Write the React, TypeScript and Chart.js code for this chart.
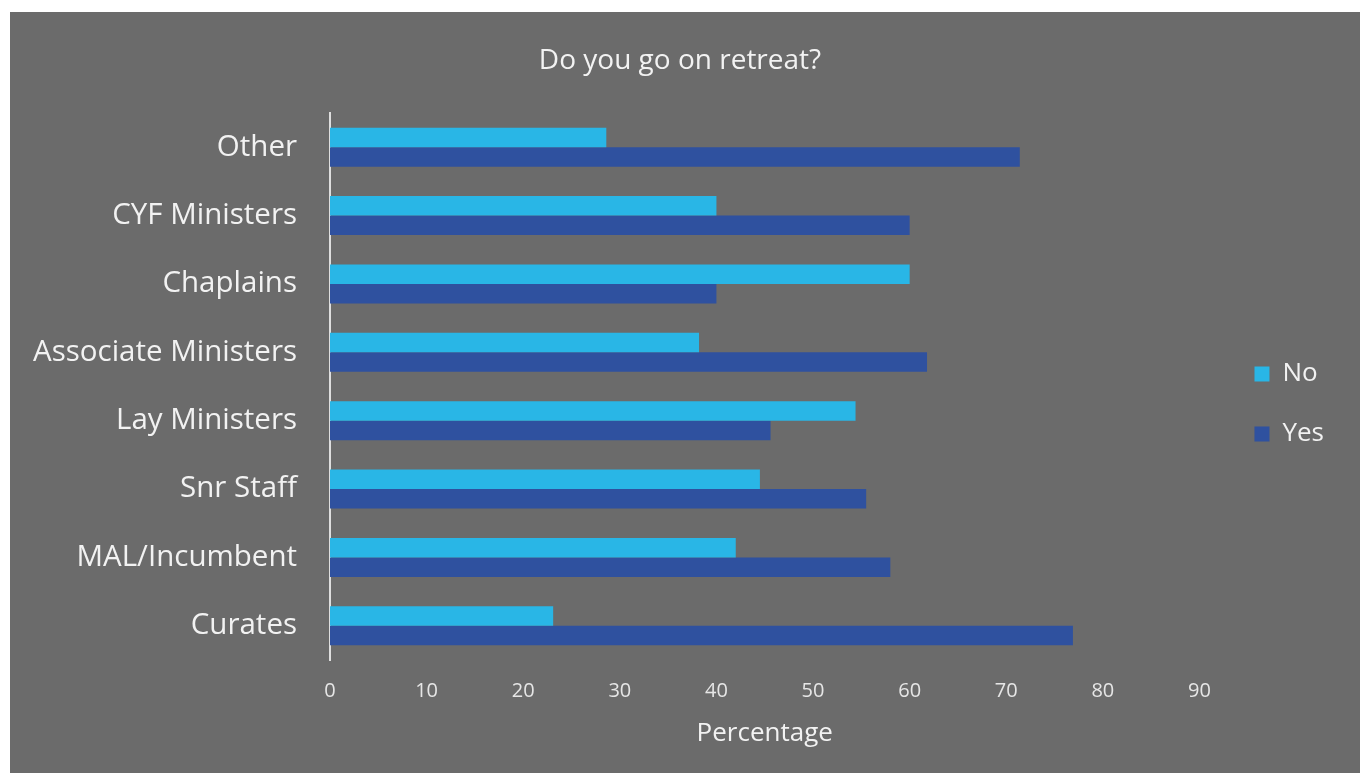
import React, { useEffect, useRef } from "react";
import { Chart, registerables } from "chart.js";

Chart.register(...registerables);

const categories = [
  "Other",
  "CYF Ministers",
  "Chaplains",
  "Associate Ministers",
  "Lay Ministers",
  "Snr Staff",
  "MAL/Incumbent",
  "Curates",
];
const noValues = [28.6, 40, 60, 38.2, 54.4, 44.5, 42, 23.1];
const yesValues = [71.4, 60, 40, 61.8, 45.6, 55.5, 58, 76.9];
const seriesNames = ["No", "Yes"];
const xTicksMax = 90;

const FONT = "'Open Sans', 'Noto Sans', sans-serif";
const TEXT = "#f2f2f2";

export default function App() {
  const ref = useRef<HTMLCanvasElement | null>(null);

  useEffect(() => {
    if (!ref.current) return;
    const chart = new Chart(ref.current, {
      type: "bar",
      data: {
        labels: categories,
        datasets: [
          {
            label: seriesNames[0],
            data: noValues,
            backgroundColor: "#29b6e6",
            borderWidth: 0,
            barPercentage: 1,
            categoryPercentage: 0.57,
          },
          {
            label: seriesNames[1],
            data: yesValues,
            backgroundColor: "#2f519f",
            borderWidth: 0,
            barPercentage: 1,
            categoryPercentage: 0.57,
          },
        ],
      },
      options: {
        indexAxis: "y",
        responsive: false,
        animation: false,
        layout: { padding: { left: 16, right: 26, top: 0, bottom: 0 } },
        scales: {
          x: {
            type: "linear",
            min: 0,
            max: xTicksMax,
            grid: { display: false, drawTicks: false },
            border: { display: false },
            ticks: {
              stepSize: 10,
              color: "#e6e6e6",
              padding: 19,
              font: { family: FONT, size: 20 },
            },
            title: {
              display: true,
              text: "Percentage",
              color: TEXT,
              font: { family: FONT, size: 26 },
              padding: { top: 0, bottom: 24 },
            },
            afterFit: (s: any) => {
              s.height = 113;
            },
          },
          y: {
            type: "category",
            grid: { display: false, drawTicks: false },
            border: { display: true, color: "#dedede", width: 2 },
            ticks: {
              autoSkip: false,
              color: TEXT,
              padding: 33,
              font: { family: FONT, size: 29.5 },
            },
            afterFit: (s: any) => {
              s.width = 304;
            },
          },
          yRight: {
            type: "category",
            axis: "y",
            position: "right",
            display: true,
            grid: { display: false, drawTicks: false },
            border: { display: false },
            ticks: { display: false },
            afterFit: (s: any) => {
              s.width = 21;
            },
          },
        },
        plugins: {
          title: {
            display: true,
            text: "Do you go on retreat?",
            color: TEXT,
            font: { family: FONT, size: 28, weight: "normal" },
            padding: { top: 32, bottom: 35.4 },
          },
          legend: {
            display: true,
            position: "right",
            title: {
              display: true,
              text: " ",
              font: { size: 10 },
              padding: { top: 11, bottom: 0 },
            },
            labels: {
              boxWidth: 15,
              boxHeight: 15,
              padding: 34,
              color: TEXT,
              font: { family: FONT, size: 26 },
            },
          },
          tooltip: { enabled: false },
        },
      },
    } as any);
    return () => chart.destroy();
  }, []);

  return (
    <div
      style={{
        position: "fixed",
        left: 0,
        top: 0,
        width: 1360,
        height: 773,
        background: "#ffffff",
        overflow: "hidden",
      }}
    >
      <div
        style={{
          position: "absolute",
          left: 10,
          top: 12,
          width: 1350,
          height: 761,
          background: "#6b6b6b",
        }}
      >
        <canvas ref={ref} width={1350} height={761} style={{ display: "block" }} />
      </div>
    </div>
  );
}
